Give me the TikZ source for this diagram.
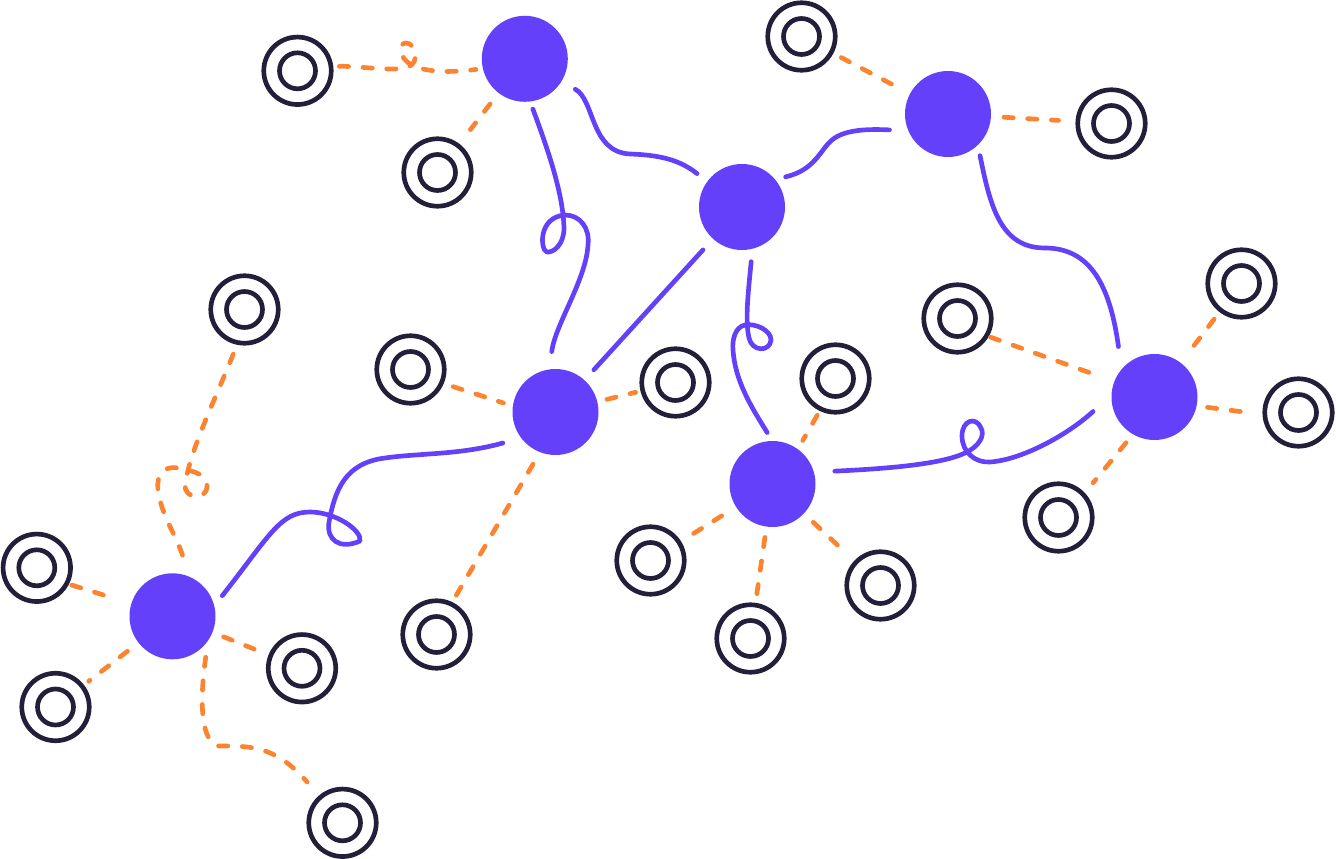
\documentclass[tikz,border=0pt]{standalone}
\definecolor{hubviolet}{HTML}{6440FB}
\definecolor{linkorange}{HTML}{FC8431}
\definecolor{ringink}{HTML}{221F3A}
\tikzset{
  hub/.style={circle,fill=hubviolet,draw=none,inner sep=0pt,outer sep=0pt,minimum size=64.5pt},
  ring/.style={circle,draw=ringink,line width=3.5pt,inner sep=0pt,minimum size=50.6pt,fill=white},
  ringcore/.style={circle,draw=ringink,line width=3.5pt,inner sep=0pt,minimum size=27pt},
  cable/.style={draw=hubviolet,line width=3.5pt,line cap=round,line join=round},
  feeder/.style={draw=linkorange,line width=3.5pt,line cap=round,line join=round,dash pattern=on 7pt off 10.8pt},
  gaps/.style 2 args={shorten <=#1*0.75pt+1.5pt,shorten >=#2*0.75pt+1.5pt}
}
\begin{document}
\begin{tikzpicture}[x=0.75pt,y=-0.75pt]
\useasboundingbox (0,0) rectangle (1336,859);
% hubs
\foreach \n/\x/\y in {A/524.8/58.8,B/948/114,C/742/207,D/555.5/412,E/772.5/484,F/1154.5/397,G/172.5/616.3}
  \node[hub] (\n) at (\x,\y) {};
% rings
\foreach \n/\x/\y in {ra/297.5/70.8,rb/437.5/172.5,rc/801.5/36.5,rd/1111.5/123.5,re/957.5/318.5,rf/1241.5/283.5,rg/1298.5/412.5,rh/1058.5/517.5,
  ri/410.5/369.5,rj/675.5/382.5,rk/835.5/378.5,rl/650.5/560.5,rm/880.5/585.5,rn/750.5/638.5,ro/436.5/634.5,rp/244.5/309.5,rq/36.8/567.8,rr/55.5/707,rs/302/668.3,rt/342.5/822.8}{
  \node[ring] (\n) at (\x,\y) {};
  \node[ringcore] (\n c) at (\x,\y) {};
}
% straight feeders
\draw[feeder,gaps={12}{16}] (A) -- (rb);
\draw[feeder,gaps={19}{7}] (B) -- (rc);
\draw[feeder,gaps={11}{15}] (B) -- (rd);
\draw[feeder,gaps={8}{8}] (ri.-23) -- (D.172);
\draw[feeder,gaps={8}{3}] (D) -- (rj);
\draw[feeder,gaps={12}{3}] (D.-111) -- (ro.64);
\draw[feeder,gaps={3}{8}] (rk.-116) -- (E.54);
\draw[feeder,gaps={15}{9}] (E) -- (rl);
\draw[feeder,gaps={11}{20}] (E) -- (rm);
\draw[feeder,gaps={9}{5}] (E) -- (rn);
\draw[feeder,gaps={0}{20}] (re.-30) -- (F.159);
\draw[feeder,gaps={20}{6}] (F) -- (rf);
\draw[feeder,gaps={9}{15}] (F.-12) -- (rg.183);
\draw[feeder,gaps={9}{11}] (F.-120) -- (rh.43);
\draw[feeder,gaps={1}{21}] (rq.-27) -- (G.163);
\draw[feeder,gaps={12}{4}] (G) -- (rr);
\draw[feeder,gaps={10}{13}] (G) -- (rs);
% curved feeders
\draw[feeder,gaps={4}{5}] (ra.7) .. controls (360,66) and (395,72) .. (408,67)
  .. controls (420,63) and (416,43) .. (406,43)
  .. controls (398,43) and (398,58) .. (412,65)
  .. controls (425,72) and (450,73) .. (A.193);
\draw[feeder,gaps={15}{16}] (G.-34) .. controls (201,690) and (198,740) .. (218,746)
  .. controls (250,746) and (275,745) .. (rt.131);
\draw[feeder,gaps={8}{10}] (rp.-102) .. controls (215,400) and (190,450) .. (185,485)
  .. controls (184,498) and (205,502) .. (207,487)
  .. controls (208,475) and (195,471) .. (178,468)
  .. controls (160,465) and (155,480) .. (159,495)
  .. controls (163,520) and (180,540) .. (G.70);
% cables
\draw[cable,gaps={13}{12}] (C) -- (D);
\draw[cable,gaps={14}{11}] (A.-32) .. controls (595,100) and (590,152) .. (630,154)
  .. controls (660,155) and (680,160) .. (C.144);
\draw[cable,gaps={6}{16}] (A.-83) .. controls (550,155) and (563,195) .. (564,228)
  .. controls (564,245) and (553,253) .. (547,252)
  .. controls (540,250) and (538,217) .. (565,215)
  .. controls (580,215) and (590,228) .. (588,245)
  .. controls (586,280) and (555,325) .. (D.98);
\draw[cable,gaps={11}{8}] (C.-76) .. controls (748,295) and (745,320) .. (749,338)
  .. controls (752,352) and (770,352) .. (771,340)
  .. controls (771,330) and (755,323) .. (745,325)
  .. controls (735,327) and (732,340) .. (733,350)
  .. controls (735,380) and (750,405) .. (E.90);
\draw[cable,gaps={9}{17}] (C.40) .. controls (815,170) and (820,150) .. (832,140)
  .. controls (845,129) and (870,129) .. (B.203);
\draw[cable,gaps={9}{21}] (B.-46) .. controls (990,205) and (1000,248) .. (1045,248)
  .. controls (1090,248) and (1110,285) .. (F.140);
\draw[cable,gaps={19}{23}] (E.16) .. controls (880,469) and (940,465) .. (965,453)
  .. controls (980,446) and (985,435) .. (981,428)
  .. controls (976,416) and (962,420) .. (962,436)
  .. controls (962,452) and (975,463) .. (990,462)
  .. controls (1020,460) and (1065,437) .. (F.177);
\draw[cable,gaps={17}{11}] (D.217) .. controls (460,455) and (420,453) .. (385,458)
  .. controls (345,463) and (335,490) .. (329,522)
  .. controls (326,540) and (340,550) .. (360,541)
  .. controls (362,530) and (335,512) .. (310,512)
  .. controls (280,512) and (270,535) .. (G.14);
\end{tikzpicture}
\end{document}
